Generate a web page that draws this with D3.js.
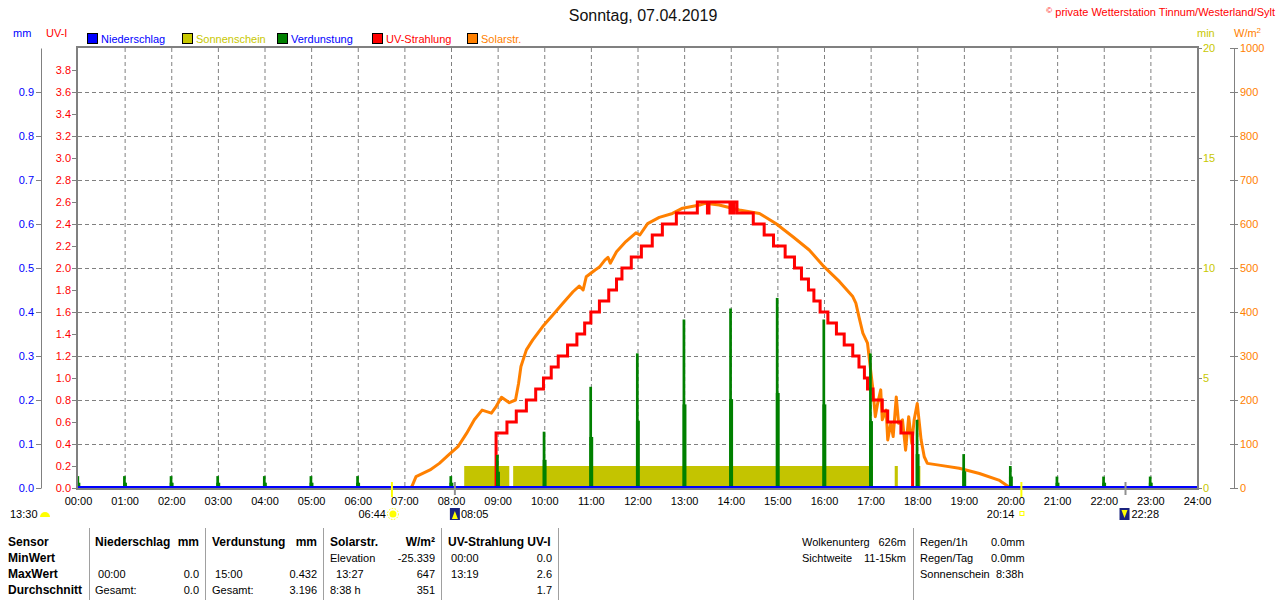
<!DOCTYPE html>
<html>
<head>
<meta charset="utf-8">
<script src="https://cdn.jsdelivr.net/npm/d3@7"></script>
<style>
  body { margin: 0; background: #fff; }
  svg { display: block; font-family: "Liberation Sans", Arial, sans-serif; }
</style>
</head>
<body>
<svg id="chart" width="1280" height="600"></svg>
<script>
// --- data ---
const hourTicks = d3.range(0, 25);
const uvTicks = d3.range(0, 39, 2).map(d => d / 10);     // 0.0 .. 3.8
const uvGrid = d3.range(4, 37, 4).map(d => d / 10);      // 0.4 .. 3.6
const mmTicks = d3.range(0, 10).map(d => d / 10);        // 0.0 .. 0.9
const minTicks = [0, 5, 10, 15, 20];
const solarTicks = d3.range(0, 1001, 100);

// sunshine minutes (intervals of 1 min/min)
const sunshine = [['08:17', '09:15'], ['09:20', '17:03'], ['17:31', '17:35'], ['18:00', '18:04']];

// evaporation per hour (mm): peak value and trailing value
const evapHours = [0, 1, 2, 3, 4, 5, 6, 8, 9, 10, 11, 12, 13, 14, 15, 16, 17, 18, 19, 20, 21, 22, 23];
const evapPeak = [0.027, 0.027, 0.027, 0.027, 0.027, 0.027, 0.027, 0.027, 0.075, 0.128, 0.230, 0.306,
  0.383, 0.408, 0.432, 0.383, 0.306, 0.155, 0.077, 0.050, 0.026, 0.026, 0.026];
const evapTail = [0.012, 0.012, 0.012, 0.012, 0.012, 0.012, 0.012, 0.012, 0.037, 0.064, 0.116, 0.153,
  0.190, 0.202, 0.216, 0.190, 0.152, 0.077, 0.038, 0.026, 0.012, 0.012, 0.012];

// UV index (step line)
const uvSteps = [
  ['00:00', 0], ['08:58', 0.5], ['09:12', 0.6], ['09:24', 0.7], ['09:37', 0.8], ['09:49', 0.9],
  ['09:59', 1.0], ['10:09', 1.1], ['10:18', 1.2], ['10:30', 1.3], ['10:42', 1.4], ['10:52', 1.5],
  ['11:00', 1.6], ['11:11', 1.7], ['11:23', 1.8], ['11:33', 1.9], ['11:40', 2.0], ['11:52', 2.1],
  ['12:05', 2.2], ['12:19', 2.3], ['12:32', 2.4], ['12:50', 2.5], ['13:17', 2.6], ['13:30', 2.5],
  ['13:32', 2.6], ['13:59', 2.5], ['14:00', 2.6], ['14:03', 2.5], ['14:04', 2.6], ['14:08', 2.5],
  ['14:29', 2.4], ['14:43', 2.3], ['14:55', 2.2], ['15:10', 2.1], ['15:22', 2.0], ['15:31', 1.9],
  ['15:40', 1.8], ['15:47', 1.7], ['15:55', 1.6], ['16:05', 1.5], ['16:16', 1.4], ['16:26', 1.3],
  ['16:37', 1.2], ['16:45', 1.1], ['16:52', 1.0], ['16:56', 0.9], ['17:03', 0.8], ['17:15', 0.7],
  ['17:22', 0.6], ['17:39', 0.5], ['17:54', 0], ['24:00', 0]
];

// solar radiation W/m²
const solar = [
  ['00:00', 0], ['07:08', 0], ['07:10', 5], ['07:15', 26], ['07:33', 41], ['07:45', 56], ['07:58', 77],
  ['08:09', 94], ['08:20', 124], ['08:30', 155], ['08:40', 177], ['08:52', 170], ['08:58', 185],
  ['09:05', 206], ['09:15', 194], ['09:23', 200], ['09:27', 238], ['09:30', 276], ['09:37', 314],
  ['09:45', 336], ['09:58', 367], ['10:11', 393], ['10:24', 420], ['10:37', 446], ['10:45', 459],
  ['10:50', 450], ['10:54', 480], ['11:05', 495], ['11:11', 502], ['11:18', 518], ['11:22', 524],
  ['11:25', 511], ['11:33', 537], ['11:45', 560], ['11:58', 580], ['12:03', 575], ['12:13', 601],
  ['12:28', 615], ['12:45', 624], ['12:58', 636], ['13:20', 643], ['13:27', 647], ['13:45', 643],
  ['14:11', 632], ['14:37', 624], ['14:58', 601], ['15:20', 571], ['15:41', 541], ['16:00', 503],
  ['16:20', 469], ['16:37', 435], ['16:41', 420], ['16:45', 389], ['16:50', 352], ['16:56', 329],
  ['16:59', 283], ['17:03', 223], ['17:06', 162], ['17:09', 192], ['17:13', 223], ['17:15', 155],
  ['17:20', 177], ['17:22', 109], ['17:26', 147], ['17:29', 117], ['17:33', 207], ['17:36', 147],
  ['17:41', 155], ['17:45', 86], ['17:49', 162], ['17:53', 101], ['17:56', 155], ['18:00', 192],
  ['18:05', 109], ['18:09', 71], ['18:13', 56], ['18:28', 52], ['18:54', 45], ['19:20', 33],
  ['19:45', 18], ['20:00', 0], ['24:00', 0]
];

const sunTimes = { rise: '06:44', set: '20:14' };
const moonTimes = { rise: '08:05', set: '22:28' };

const legend = [
  { name: 'Niederschlag', fill: '#0000ff', text: '#0000ff' },
  { name: 'Sonnenschein', fill: '#c8c800', text: '#c8c800' },
  { name: 'Verdunstung', fill: '#008000', text: '#0000ff' },
  { name: 'UV-Strahlung', fill: '#ff0000', text: '#ff0000' },
  { name: 'Solarstr.', fill: '#ff8000', text: '#ff8000' }
];

// --- helpers ---
const t = s => { const [h, m] = s.split(':').map(Number); return h + m / 60; };

const svg = d3.select('#chart');
const plot = { left: 78, right: 1197, top: 48, bottom: 488 };

const x = d3.scaleLinear().domain([0, 24]).range([plot.left, plot.right]);
const yUV = d3.scaleLinear().domain([0, 4]).range([plot.bottom, plot.top]);
const yMM = d3.scaleLinear().domain([0, 1]).range([plot.bottom, plot.top]);
const yMin = d3.scaleLinear().domain([0, 20]).range([plot.bottom, plot.top]);
const ySol = d3.scaleLinear().domain([0, 1000]).range([plot.bottom, plot.top]);

svg.append('defs').append('clipPath').attr('id', 'clip')
  .append('rect')
  .attr('x', plot.left).attr('y', plot.top - 2)
  .attr('width', plot.right - plot.left).attr('height', plot.bottom - plot.top + 2);

// title
svg.append('text').attr('x', 643).attr('y', 21).attr('text-anchor', 'middle')
  .attr('font-size', 16).attr('fill', '#111').text('Sonntag, 07.04.2019');
svg.append('text').attr('x', 1275).attr('y', 16).attr('text-anchor', 'end')
  .attr('font-size', 11).attr('fill', '#ff0000')
  .html('<tspan font-size="8" dy="-3">©</tspan><tspan dy="3"> private Wetterstation Tinnum/Westerland/Sylt</tspan>');

// axis headers
svg.append('text').attr('x', 13).attr('y', 37).attr('font-size', 11).attr('fill', '#0000ff').text('mm');
svg.append('text').attr('x', 46).attr('y', 37).attr('font-size', 11).attr('fill', '#ff0000').text('UV-I');
svg.append('text').attr('x', 1197).attr('y', 37).attr('font-size', 11).attr('fill', '#c8c800').text('min');
svg.append('text').attr('x', 1234).attr('y', 37).attr('font-size', 11).attr('fill', '#ff8000')
  .html('W/m<tspan font-size="8" dy="-4">2</tspan>');

// legend
const lg = svg.append('g').attr('font-size', 11);
const legendX = [87, 182, 277, 372, 467];
legend.forEach((d, i) => {
  lg.append('rect').attr('x', legendX[i] + 0.5).attr('y', 33.5).attr('width', 10).attr('height', 10)
    .attr('fill', d.fill).attr('stroke', '#000');
  lg.append('text').attr('x', legendX[i] + 14).attr('y', 43).attr('fill', d.text).text(d.name);
});

// gridlines
const grid = svg.append('g').attr('stroke', '#808080').attr('stroke-dasharray', '4,3');
grid.selectAll('line.v').data(hourTicks.slice(1, -1)).join('line')
  .attr('x1', d => x(d) + 0.5).attr('x2', d => x(d) + 0.5)
  .attr('y1', plot.top).attr('y2', plot.bottom);
grid.selectAll('line.h').data(uvGrid).join('line')
  .attr('x1', plot.left).attr('x2', plot.right)
  .attr('y1', d => Math.round(yUV(d)) + 0.5).attr('y2', d => Math.round(yUV(d)) + 0.5);

const marks = svg.append('g').attr('clip-path', 'url(#clip)');

// sunshine
marks.append('g').selectAll('rect').data(sunshine).join('rect')
  .attr('x', d => x(t(d[0]))).attr('width', d => x(t(d[1])) - x(t(d[0])))
  .attr('y', yMin(1)).attr('height', yMin(0) - yMin(1))
  .attr('fill', '#c4c400');

// solar radiation
marks.append('path').datum(solar)
  .attr('fill', 'none').attr('stroke', '#ff8000').attr('stroke-width', 3).attr('stroke-linejoin', 'round')
  .attr('d', d3.line().x(d => x(t(d[0]))).y(d => ySol(d[1])));

// UV
marks.append('path').datum(uvSteps)
  .attr('fill', 'none').attr('stroke', '#ff0000').attr('stroke-width', 3)
  .attr('d', d3.line().curve(d3.curveStepAfter).x(d => x(t(d[0]))).y(d => yUV(d[1])));

// evaporation
const evap = evapHours.map((h, i) => ({ h, peak: evapPeak[i], tail: evapTail[i] }));
const eg = marks.append('g').attr('fill', '#008000');
eg.selectAll('rect.tail').data(evap).join('rect')
  .attr('x', d => x(d.h - 2 / 60)).attr('width', x(5 / 60) - x(0))
  .attr('y', d => yMM(d.tail)).attr('height', d => yMM(0) - yMM(d.tail));
eg.selectAll('rect.peak').data(evap).join('rect')
  .attr('x', d => x(d.h - 2 / 60)).attr('width', x(3.5 / 60) - x(0))
  .attr('y', d => yMM(d.peak)).attr('height', d => yMM(0) - yMM(d.peak));

// precipitation (zero line)
marks.append('path').datum([0, 24])
  .attr('stroke', '#0000ff').attr('stroke-width', 2)
  .attr('d', d3.line().x(d => x(d)).y(() => yMM(0) - 1));

// frame
svg.append('rect').attr('x', plot.left - 1).attr('y', plot.top - 1)
  .attr('width', plot.right - plot.left + 2).attr('height', plot.bottom - plot.top + 2)
  .attr('fill', 'none').attr('stroke', '#808080').attr('stroke-width', 2);

// axes
function styleAxis(g, color) {
  g.attr('font-family', null).attr('font-size', 11);
  g.selectAll('.tick text').attr('fill', color);
  g.selectAll('.tick line').attr('stroke', '#808080');
  g.select('.domain').attr('stroke', '#808080');
}

svg.append('g').attr('transform', `translate(${plot.left - 2},0)`)
  .call(d3.axisLeft(yUV).tickValues(uvTicks).tickSize(4).tickPadding(1).tickFormat(d3.format('.1f')))
  .call(g => { styleAxis(g, '#ff0000'); g.select('.domain').remove(); });

svg.append('g').attr('transform', 'translate(41,0)')
  .call(d3.axisLeft(yMM).tickValues(mmTicks).tickSize(5).tickSizeOuter(0).tickPadding(2).tickFormat(d3.format('.1f')))
  .call(g => styleAxis(g, '#0000ff'));

svg.append('g').attr('transform', `translate(${plot.right + 1},0)`)
  .call(d3.axisRight(yMin).tickValues(minTicks).tickSize(4).tickPadding(1))
  .call(g => { styleAxis(g, '#c8c800'); g.select('.domain').remove(); });

svg.append('g').attr('transform', 'translate(1234,0)')
  .call(d3.axisRight(ySol).tickValues(solarTicks).tickSize(4).tickSizeOuter(0).tickPadding(2).tickFormat(d3.format('d')))
  .call(g => { styleAxis(g, '#ff8000'); g.selectAll('.tick line').attr('x1', -4); });

svg.append('g').attr('transform', `translate(0,${plot.bottom})`)
  .call(d3.axisBottom(x).tickValues(hourTicks).tickSize(0).tickPadding(9)
    .tickFormat(d => String(d).padStart(2, '0') + ':00'))
  .call(g => { styleAxis(g, '#000'); g.select('.domain').remove(); });

// sun / moon markers
const rise = x(t(sunTimes.rise)), set = x(t(sunTimes.set));
const mrise = x(t(moonTimes.rise)), mset = x(t(moonTimes.set));
const mk = svg.append('g');
[rise, set].forEach(px => mk.append('line').attr('x1', px).attr('x2', px).attr('y1', 482).attr('y2', 497)
  .attr('stroke', '#ffff00').attr('stroke-width', 2));
[mrise, mset].forEach(px => mk.append('line').attr('x1', px).attr('x2', px).attr('y1', 482).attr('y2', 495)
  .attr('stroke', '#909090').attr('stroke-width', 2));

const lab = svg.append('g').attr('font-size', 11).attr('fill', '#000');
lab.append('text').attr('x', 10).attr('y', 518).text('13:30');
lab.append('path').attr('d', 'M40,517 A5,5 0 0 1 50,517 Z').attr('fill', '#ffff00');

lab.append('text').attr('x', rise - 6).attr('y', 518).attr('text-anchor', 'end').text(sunTimes.rise);
lab.append('circle').attr('cx', rise + 1).attr('cy', 514).attr('r', 3.5).attr('fill', '#ffff00');
lab.append('circle').attr('cx', rise + 1).attr('cy', 514).attr('r', 5.5).attr('fill', 'none')
  .attr('stroke', '#ffff00').attr('stroke-dasharray', '1.5,1.5');

lab.append('rect').attr('x', mrise - 5).attr('y', 508).attr('width', 10).attr('height', 12).attr('fill', '#1a237e');
lab.append('path').attr('d', `M${mrise - 3},519 L${mrise},511 L${mrise + 3},519 Z`).attr('fill', '#ffff00');
lab.append('text').attr('x', mrise + 6).attr('y', 518).text(moonTimes.rise);

lab.append('text').attr('x', set - 7).attr('y', 518).attr('text-anchor', 'end').text(sunTimes.set);
lab.append('rect').attr('x', set - 1.5).attr('y', 511.5).attr('width', 4).attr('height', 4)
  .attr('fill', 'none').attr('stroke', '#ffff00');

lab.append('rect').attr('x', mset - 6).attr('y', 508).attr('width', 10).attr('height', 12).attr('fill', '#1a237e');
lab.append('path').attr('d', `M${mset - 4},510 L${mset - 1},518 L${mset + 2},510 Z`).attr('fill', '#ffff00');
lab.append('text').attr('x', mset + 6).attr('y', 518).text(moonTimes.set);

// summary table
const rowY = [546, 562, 578, 594];
const seps = [89, 205, 323, 441, 558, 913];
const tb = svg.append('g').attr('font-size', 11).attr('fill', '#000');
seps.forEach(sx => tb.append('line').attr('x1', sx + 0.5).attr('x2', sx + 0.5).attr('y1', 528).attr('y2', 600)
  .attr('stroke', '#a0a0a0'));

const rowNames = ['Sensor', 'MinWert', 'MaxWert', 'Durchschnitt'];
rowNames.forEach((n, i) => tb.append('text').attr('x', 8).attr('y', rowY[i])
  .attr('font-weight', 'bold').attr('font-size', 12).text(n));

const tableCols = [
  { l: 95, r: 199, head: ['Niederschlag', 'mm'], rows: [['', ''], [' 00:00', '0.0'], ['Gesamt:', '0.0']] },
  { l: 212, r: 317, head: ['Verdunstung', 'mm'], rows: [['', ''], [' 15:00', '0.432'], ['Gesamt:', '3.196']] },
  { l: 330, r: 435, head: ['Solarstr.', 'W/m²'], rows: [['Elevation', '-25.339'], ['  13:27', '647'], ['8:38 h', '351']] },
  { l: 448, r: 552, head: ['UV-Strahlung UV-I', ''], rows: [[' 00:00', '0.0'], [' 13:19', '2.6'], ['', '1.7']] }
];
tableCols.forEach(c => {
  tb.append('text').attr('x', c.l).attr('y', rowY[0]).attr('font-weight', 'bold').attr('font-size', 12).text(c.head[0]);
  tb.append('text').attr('x', c.r).attr('y', rowY[0]).attr('font-weight', 'bold').attr('font-size', 12)
    .attr('text-anchor', 'end').text(c.head[1]);
  c.rows.forEach((r, i) => {
    tb.append('text').attr('x', c.l).attr('y', rowY[i + 1]).attr('xml:space', 'preserve')
      .style('white-space', 'pre').text(r[0]);
    tb.append('text').attr('x', c.r).attr('y', rowY[i + 1]).attr('text-anchor', 'end').text(r[1]);
  });
});

const weather = [['Wolkenunterg', '626m'], ['Sichtweite', '11-15km']];
weather.forEach((w, i) => {
  tb.append('text').attr('x', 802).attr('y', rowY[i]).text(w[0]);
  tb.append('text').attr('x', 906).attr('y', rowY[i]).attr('text-anchor', 'end').text(w[1]);
});
const rain = [['Regen/1h', '0.0mm'], ['Regen/Tag', '0.0mm'], ['Sonnenschein', '8:38h']];
rain.forEach((w, i) => {
  tb.append('text').attr('x', 920).attr('y', rowY[i]).text(w[0]);
  tb.append('text').attr('x', i === 2 ? 996 : 991).attr('y', rowY[i]).text(w[1]);
});
</script>
</body>
</html>
